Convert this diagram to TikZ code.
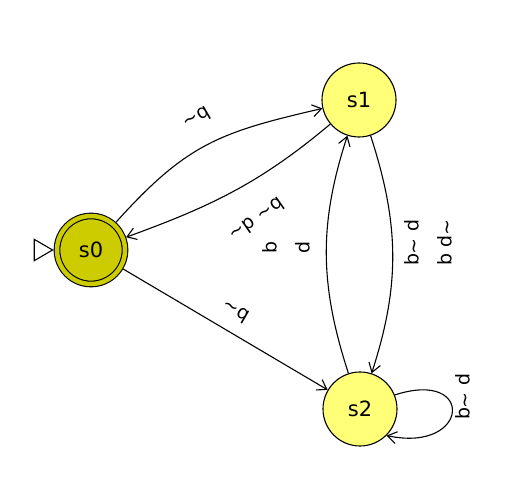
\documentclass[tikz,border=0pt]{standalone}
\usepackage{fontspec}
\setmainfont{DejaVu Sans}
\usetikzlibrary{arrows.meta, positioning}
\definecolor{accyel}{RGB}{204,204,0}
\definecolor{stateyel}{RGB}{255,255,120}
\newcommand{\tld}{\textasciitilde}
\tikzset{
  statenode/.style={circle, draw=black, fill=stateyel, minimum size=74pt,
    inner sep=0pt, line width=1.1pt, font=\fontsize{21}{25}\selectfont},
  accnode/.style={statenode, fill=accyel, double=accyel, double distance=4.5pt,
    minimum size=68pt, outer sep=3.3pt},
  arrow/.style={-{Straight Barb[length=9pt,width=12pt]}, line width=1.1pt},
  initarrow/.style={-{Triangle[open,length=20pt,width=23pt]}, line width=1.1pt},
  lbl/.style={font=\fontsize{19}{33}\selectfont, inner sep=1pt, align=center}
}

\begin{document}
\begin{tikzpicture}[x=1pt, y=1pt]
  \useasboundingbox (0,0) rectangle (518,486);

  \node[accnode] (s0) at (91,236) {s0};
  \node[statenode] (s1) at (359,386) {s1};
  \node[statenode] (s2) at (360,77) {s2};
  \coordinate (init) at (33.7,236);

  \draw[initarrow] (init) -- (s0);
  \draw[arrow] (s0) to[out=48, in=193, looseness=1.15] (s1);
  \draw[arrow] (s1) to[out=220, in=20] (s0);
  \draw[arrow] (s0) -- (s2);
  \draw[arrow] (s1) to[out=-72, in=72] (s2);
  \draw[arrow] (s2) to[out=108, in=252] (s1);
  \draw[arrow] (s2.22) .. controls +(18:85) and +(-12:85) .. (s2.-45);

  % transition labels
  \node[lbl, rotate=30] (lq01) at (197,367) {\tld q};
  \node[lbl, rotate=35] (lq10) at (257,266) {\tld p \tld q};
  \node[lbl, rotate=-30] (lq02) at (235,174) {\tld q};
  \node[lbl, rotate=-90] (lq21) at (286,238) {p\\q};
  \node[lbl, rotate=-90] (lq12) at (428,243) {\tld p q\\p \tld q};
  \node[lbl, rotate=-90] (lq22) at (463,89) {p \tld q};

\end{tikzpicture}
\end{document}
